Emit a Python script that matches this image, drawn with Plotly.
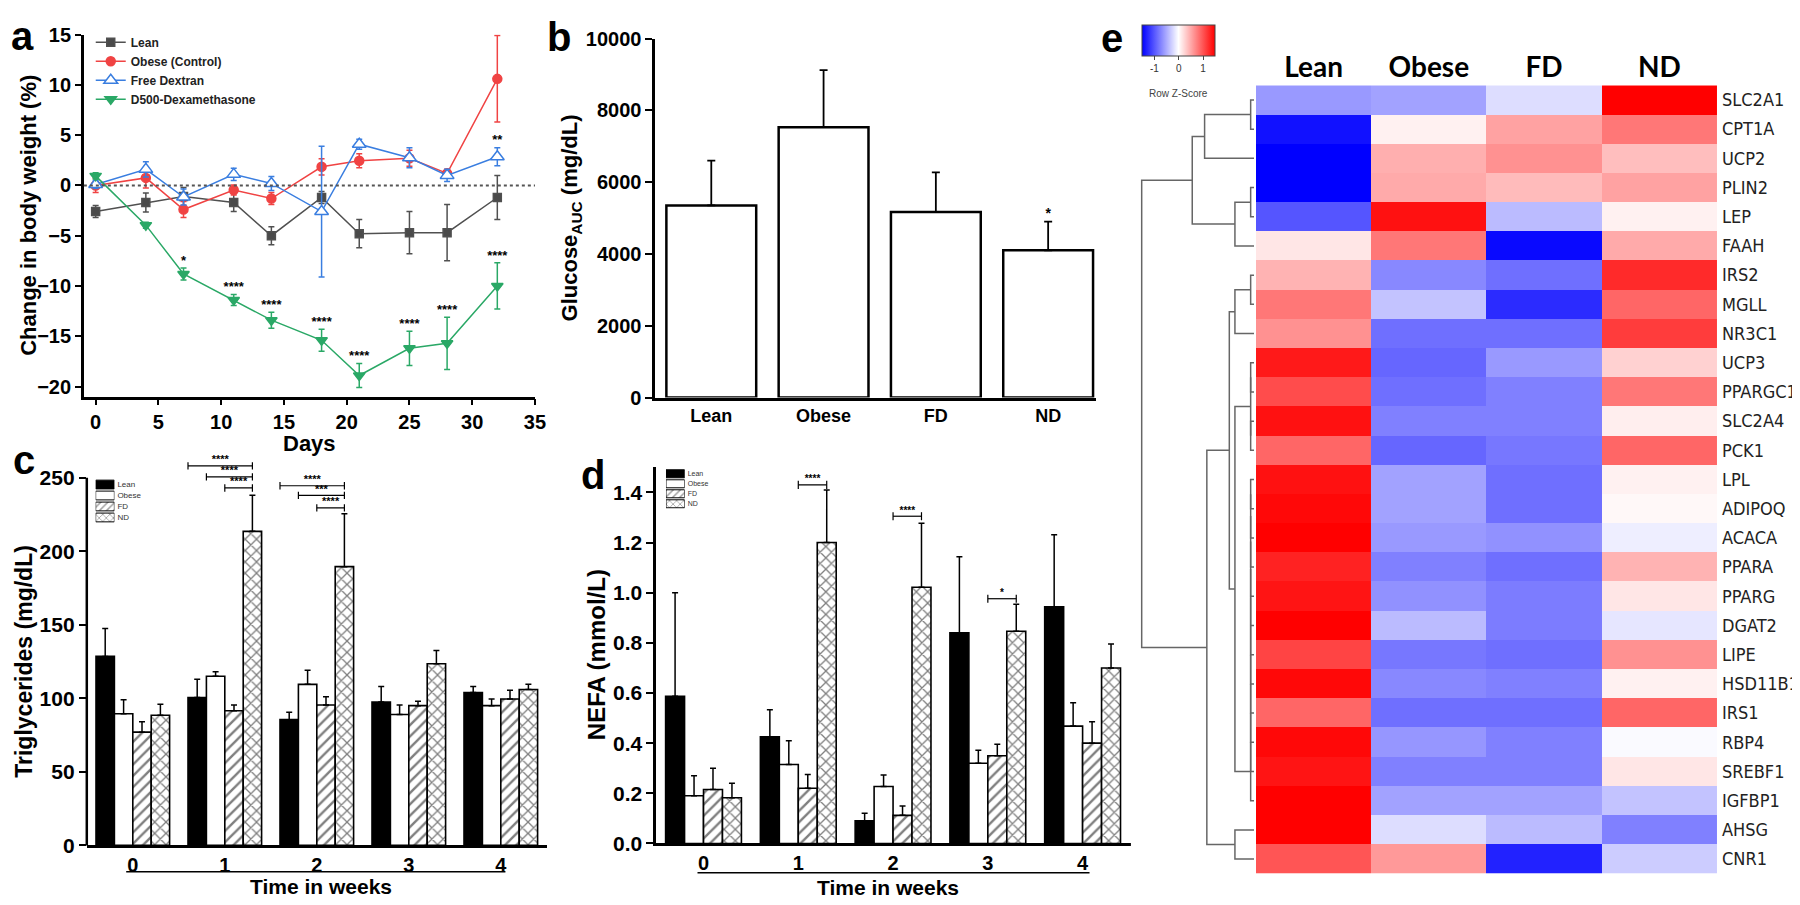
import plotly.graph_objects as go

W, H = 1800, 905
def fx(p): return p / W
def fy(p): return 1 - p / H

FONT = "Liberation Sans, Arial, Helvetica, sans-serif"
NARROW = "Liberation Sans Narrow, Arial Narrow, DejaVu Sans Condensed, Liberation Sans, sans-serif"
HEAD = "Lato, Carlito, Open Sans, sans-serif"

# ---------------- panel a : body weight ----------------
days = [0, 4, 7, 11, 14, 18, 21, 25, 28, 32]
bw_lean = [-2.6, -1.7, -1.1, -1.7, -5.0, -1.2, -4.8, -4.7, -4.7, -1.2]
bw_lean_err = [0.6, 0.95, 0.9, 0.9, 0.9, 0.6, 1.4, 2.1, 2.8, 2.2]
bw_obese = [0.0, 0.75, -2.4, -0.45, -1.3, 1.85, 2.45, 2.7, 1.2, 10.6]
bw_obese_err = [0.7, 1.0, 0.8, 0.5, 0.6, 0.8, 0.7, 0.8, 0.4, 4.3]
bw_fd = [0.1, 1.6, -1.15, 1.1, 0.2, -2.6, 4.1, 2.75, 1.0, 2.85]
bw_fd_err = [0.4, 0.75, 0.8, 0.6, 0.7, 6.5, 0.5, 1.0, 0.6, 0.9]
bw_nd = [0.95, -3.95, -8.8, -11.4, -13.4, -15.4, -18.9, -16.2, -15.7, -10.0]
bw_nd_err = [0.3, 0.3, 0.6, 0.55, 0.8, 1.1, 1.2, 1.7, 2.6, 2.3]
bw_nd_sig = ["", "", "*", "****", "****", "****", "****", "****", "****", "****"]
bw_fd_sig = ["", "", "", "", "", "", "", "", "", "**"]
a_names = ["Lean", "Obese (Control)", "Free Dextran", "D500-Dexamethasone"]

# ---------------- panel b : glucose AUC ----------------
groups = ["Lean", "Obese", "FD", "ND"]
glucose_auc = [5350, 7530, 5170, 4100]
glucose_auc_err = [1250, 1590, 1100, 800]
glucose_sig = ["", "", "", "*"]

# ---------------- panel c : triglycerides ----------------
weeks = [0, 1, 2, 3, 4]
tg_lean = [128.5, 100.5, 85.5, 97.5, 104]
tg_lean_err = [19, 12.5, 5, 10.5, 4]
tg_obese = [89.5, 115, 109.5, 89, 95]
tg_obese_err = [9.5, 3, 9.5, 6.5, 4.5]
tg_fd = [77, 91.5, 95.5, 95, 99.5]
tg_fd_err = [7, 4, 5.5, 3, 6]
tg_nd = [88.5, 213.5, 189.5, 123.5, 106]
tg_nd_err = [7.5, 24.5, 36, 9, 3.5]
# (week, compared group, bracket level, label)  -> all versus ND
tg_sig_week = [1, 1, 1, 2, 2, 2]
tg_sig_group = ["Lean", "Obese", "FD", "Lean", "Obese", "FD"]
tg_sig_level = [258, 250.5, 243, 244.5, 238, 229.5]
tg_sig_label = ["****", "****", "****", "****", "***", "****"]

# ---------------- panel d : NEFA ----------------
nefa_lean = [0.587, 0.425, 0.09, 0.84, 0.944]
nefa_lean_err = [0.413, 0.108, 0.03, 0.303, 0.287]
nefa_obese = [0.19, 0.315, 0.227, 0.32, 0.468]
nefa_obese_err = [0.08, 0.095, 0.046, 0.052, 0.093]
nefa_fd = [0.215, 0.22, 0.112, 0.35, 0.40]
nefa_fd_err = [0.085, 0.055, 0.037, 0.046, 0.085]
nefa_nd = [0.182, 1.2, 1.022, 0.846, 0.70]
nefa_nd_err = [0.058, 0.21, 0.255, 0.108, 0.095]
nefa_sig_week = [1, 2, 3]
nefa_sig_group = ["FD", "FD", "FD"]
nefa_sig_level = [1.43, 1.305, 0.976]
nefa_sig_label = ["****", "****", "*"]

# ---------------- panel e : heatmap ----------------
genes = ["SLC2A1", "CPT1A", "UCP2", "PLIN2", "LEP", "FAAH", "IRS2", "MGLL", "NR3C1",
         "UCP3", "PPARGC1A", "SLC2A4", "PCK1", "LPL", "ADIPOQ", "ACACA", "PPARA",
         "PPARG", "DGAT2", "LIPE", "HSD11B1", "IRS1", "RBP4", "SREBF1", "IGFBP1",
         "AHSG", "CNR1"]
z_lean = [-0.6, -1.4, -1.5, -1.5, -1.0, 0.15, 0.45, 0.8, 0.65, 1.35, 1.05, 1.4, 0.9,
          1.4, 1.45, 1.5, 1.3, 1.38, 1.5, 1.1, 1.45, 0.9, 1.45, 1.38, 1.5, 1.5, 1.0]
z_obese = [-0.55, 0.08, 0.47, 0.5, 1.4, 0.8, -0.7, -0.35, -0.85, -0.9, -0.85, -0.75, -0.9,
           -0.55, -0.55, -0.6, -0.75, -0.65, -0.4, -0.8, -0.7, -0.85, -0.62, -0.75, -0.55, -0.2, 0.6]
z_fd = [-0.2, 0.55, 0.65, 0.4, -0.4, -1.45, -0.85, -1.25, -0.85, -0.6, -0.75, -0.75, -0.8,
        -0.85, -0.85, -0.65, -0.85, -0.77, -0.77, -0.85, -0.75, -0.85, -0.75, -0.75, -0.55, -0.4, -1.3]
z_nd = [1.5, 0.8, 0.38, 0.55, 0.08, 0.5, 1.25, 0.9, 1.15, 0.27, 0.8, 0.1, 0.9,
        0.08, 0.04, -0.1, 0.45, 0.15, -0.15, 0.65, 0.08, 0.9, -0.03, 0.15, -0.35, -0.75, -0.3]
# row dendrogram: (new node, child 1, child 2, merge height)
stair_leaves = ["LPL", "ADIPOQ", "ACACA", "PPARA", "PPARG", "DGAT2", "LIPE", "HSD11B1",
                "IRS1", "RBP4", "SREBF1", "IGFBP1"]
dendro_merges = [
    ("T1", "SLC2A1", "CPT1A", 0.03), ("T2", "T1", "UCP2", 0.44),
    ("T3", "PLIN2", "LEP", 0.03), ("T4", "T3", "FAAH", 0.17), ("T5", "T2", "T4", 0.55),
    ("B1", "IRS2", "MGLL", 0.03), ("B2", "B1", "NR3C1", 0.17),
    ("G1a", "UCP3", "PPARGC1A", 0.03), ("G1b", "SLC2A4", "PCK1", 0.03), ("G1", "G1a", "G1b", 0.03),
]
prev = stair_leaves[0]
for i, leaf in enumerate(stair_leaves[1:]):
    dendro_merges.append(("S%d" % i, prev, leaf, 0.03))
    prev = "S%d" % i
dendro_merges += [
    ("B3", "G1", prev, 0.17), ("B4", "B2", "B3", 0.22),
    ("B5", "AHSG", "CNR1", 0.17), ("B6", "B4", "B5", 0.42),
    ("ROOT", "T5", "B6", 1.0),
]

fig = go.Figure()

def add_text_marks(xs, ys, labels, xa, ya, size):
    keep = [i for i, t in enumerate(labels) if t]
    fig.add_trace(go.Scatter(
        x=[xs[i] for i in keep], y=[ys[i] for i in keep], text=[labels[i] for i in keep],
        mode="text", textposition="top center",
        textfont=dict(family=FONT, size=size, color="black", weight="bold"),
        xaxis=xa, yaxis=ya, showlegend=False, cliponaxis=False, hoverinfo="skip"))

# ---------- panel a traces ----------
a_style = [
    dict(color="#505050", symbol="square", size=8, fill="#4a4a4a"),
    dict(color="#f04343", symbol="circle", size=9, fill="#f04343"),
    dict(color="#3a7ee0", symbol="triangle-up", size=12, fill="white"),
    dict(color="#2aa866", symbol="triangle-down", size=10, fill="#2aa866"),
]
a_vals = [(bw_lean, bw_lean_err), (bw_obese, bw_obese_err), (bw_fd, bw_fd_err), (bw_nd, bw_nd_err)]
for name, (v, e), st in zip(a_names, a_vals, a_style):
    fig.add_trace(go.Scatter(
        x=days, y=v, mode="lines+markers", name=name, xaxis="x", yaxis="y",
        line=dict(color=st["color"], width=1.5),
        marker=dict(symbol=st["symbol"], size=st["size"], color=st["fill"],
                    line=dict(color=st["color"], width=1.5)),
        error_y=dict(type="data", array=e, color=st["color"], thickness=1.5, width=3),
        legend="legend", showlegend=True))
for v, e, s in [(bw_nd, bw_nd_err, bw_nd_sig), (bw_fd, bw_fd_err, bw_fd_sig)]:
    add_text_marks(days, [a + b for a, b in zip(v, e)], s, "x", "y", 13)

# ---------- panel b ----------
fig.add_trace(go.Bar(
    x=groups, y=glucose_auc, xaxis="x2", yaxis="y2", showlegend=False,
    marker=dict(color="white", line=dict(color="black", width=2.5)),
    error_y=dict(type="data", symmetric=False, array=glucose_auc_err,
                 arrayminus=[0] * len(groups), color="black", thickness=1.8, width=4)))
add_text_marks(groups, [a + b for a, b in zip(glucose_auc, glucose_auc_err)], glucose_sig, "x2", "y2", 14)

# ---------- group bar styles ----------
bar_color = {"Lean": "black", "Obese": "white", "FD": "white", "ND": "white"}
bar_pattern = {"Lean": "", "Obese": "", "FD": "/", "ND": "x"}
offset = {"Lean": -0.3, "Obese": -0.1, "FD": 0.1, "ND": 0.3}
half_w = 0.1

def add_grouped(vals, errs, xa, ya):
    for g, v, e in zip(groups, vals, errs):
        fig.add_trace(go.Bar(
            x=weeks, y=v, name=g, xaxis=xa, yaxis=ya, showlegend=False,
            marker=dict(color=bar_color[g], line=dict(color="black", width=1.6),
                        pattern=dict(shape=bar_pattern[g], fgcolor="black", bgcolor="white",
                                     size=8, solidity=0.3)),
            error_y=dict(type="data", symmetric=False, array=e, arrayminus=[0] * len(e),
                         color="black", thickness=1.5, width=3)))

def add_brackets(wk, grp, lev, lab, xa, ya, tick, fsize):
    bx, by, tx, ty = [], [], [], []
    for w, g, l in zip(wk, grp, lev):
        xl = w + offset[g] - half_w
        xr = w + offset["ND"]
        bx += [xl, xl, None, xl, xr, None, xr, xr, None]
        by += [l - tick, l + tick, None, l, l, None, l - tick, l + tick, None]
        tx.append((xl + xr) / 2)
        ty.append(l)
    fig.add_trace(go.Scatter(x=bx, y=by, mode="lines", line=dict(color="black", width=1.2),
                             xaxis=xa, yaxis=ya, showlegend=False))
    add_text_marks(tx, ty, lab, xa, ya, fsize)

def add_patch_legend(xa, ya):
    fig.add_trace(go.Bar(
        y=groups, x=[1] * len(groups), orientation="h", xaxis=xa, yaxis=ya, showlegend=False,
        marker=dict(color=[bar_color[g] for g in groups], line=dict(color="black", width=1),
                    pattern=dict(shape=[bar_pattern[g] for g in groups], fgcolor="black",
                                 bgcolor="white", size=5, solidity=0.3))))

add_grouped([tg_lean, tg_obese, tg_fd, tg_nd], [tg_lean_err, tg_obese_err, tg_fd_err, tg_nd_err], "x3", "y3")
add_brackets(tg_sig_week, tg_sig_group, tg_sig_level, tg_sig_label, "x3", "y3", 2.5, 11)
add_patch_legend("x5", "y5")

add_grouped([nefa_lean, nefa_obese, nefa_fd, nefa_nd],
            [nefa_lean_err, nefa_obese_err, nefa_fd_err, nefa_nd_err], "x4", "y4")
add_brackets(nefa_sig_week, nefa_sig_group, nefa_sig_level, nefa_sig_label, "x4", "y4", 0.016, 10)
add_patch_legend("x6", "y6")

# ---------- panel e ----------
z = [[a, b, c, d] for a, b, c, d in zip(z_lean, z_obese, z_fd, z_nd)]
fig.add_trace(go.Heatmap(
    z=z, x=[0, 1, 2, 3], y=list(range(len(genes))), xaxis="x7", yaxis="y7",
    colorscale=[[0, "rgb(0,0,255)"], [0.5, "rgb(255,255,255)"], [1, "rgb(255,0,0)"]],
    zmin=-1.5, zmax=1.5, showscale=True, hoverinfo="skip",
    colorbar=dict(orientation="h", x=fx(1188.5), xanchor="center", y=fy(6), yanchor="top",
                  len=73, lenmode="pixels", thickness=31, thicknessmode="pixels",
                  xpad=0, ypad=0, outlinewidth=1, outlinecolor="#444",
                  tickvals=[-1, 0, 1], ticktext=["-1", "0", "1"],
                  ticks="outside", ticklen=4, tickcolor="#444",
                  tickfont=dict(family=FONT, size=10, color="#333"))))

pos = {g: i for i, g in enumerate(genes)}
hgt = {g: 0.0 for g in genes}
dx, dy = [], []
for name, a, b, h in dendro_merges:
    dx += [hgt[a], h, h, hgt[b], None]
    dy += [pos[a], pos[a], pos[b], pos[b], None]
    pos[name] = (pos[a] + pos[b]) / 2
    hgt[name] = h
fig.add_trace(go.Scatter(x=dx, y=dy, mode="lines", line=dict(color="#666", width=1.5),
                         xaxis="x8", yaxis="y7", showlegend=False, hoverinfo="skip"))

# ---------- layout ----------
tickb = lambda s: dict(family=FONT, size=s, color="black", weight="bold")
common = dict(showgrid=False, zeroline=False, linecolor="black", linewidth=2.5,
              tickcolor="black", tickwidth=2)

fig.update_layout(
    width=W, height=H, margin=dict(l=0, r=0, t=0, b=0),
    paper_bgcolor="white", plot_bgcolor="white",
    barmode="group", bargap=0.2, bargroupgap=0,
    legend=dict(x=fx(84), y=fy(9), xanchor="left", yanchor="top", bgcolor="rgba(0,0,0,0)",
                font=dict(family=FONT, size=12, color="#222", weight="bold"),
                itemwidth=30, tracegroupgap=0),
    xaxis=dict(domain=[fx(77), fx(535)], range=[-0.94, 35], anchor="y",
               tickvals=[0, 5, 10, 15, 20, 25, 30, 35], ticks="outside", ticklen=6,
               showline=True, tickfont=tickb(20), **common),
    yaxis=dict(domain=[fy(387), fy(16)], range=[-21, 15], anchor="x",
               tickvals=[-20, -15, -10, -5, 0, 5, 10, 15], ticks="outside", ticklen=6,
               showline=True, tickfont=tickb(20), **common),
    xaxis2=dict(domain=[fx(657), fx(1105)], range=[-0.5, 3.43], anchor="y2",
                ticks="", showline=True, tickfont=tickb(18), **common),
    yaxis2=dict(domain=[fy(388), fy(20)], range=[0, 10000], anchor="x2",
                tickvals=[0, 2000, 4000, 6000, 8000, 10000], tickformat="d",
                ticks="outside", ticklen=7, showline=True, tickfont=tickb(20), **common),
    xaxis3=dict(domain=[fx(80), fx(547)], range=[-0.5, 4.5], anchor="y3",
                tickvals=weeks, ticks="", showline=True, tickfont=tickb(20),
                ticklabelstandoff=0, **common),
    yaxis3=dict(domain=[fy(847), fy(452)], range=[0, 262], anchor="x3",
                tickvals=[0, 50, 100, 150, 200, 250], ticks="outside", ticklen=7,
                showline=False, tickfont=tickb(21), **common),
    xaxis4=dict(domain=[fx(658), fx(1141)], range=[-0.5, 4.52], anchor="y4",
                tickvals=weeks, ticks="", showline=True, tickfont=tickb(20),
                ticklabelstandoff=0, **common),
    yaxis4=dict(domain=[fy(845), fy(459.5)], range=[0, 1.5], anchor="x4",
                tickvals=[0, 0.2, 0.4, 0.6, 0.8, 1.0, 1.2, 1.4], tickformat=".1f",
                ticks="outside", ticklen=7, showline=True, tickfont=tickb(21), **common),
    xaxis5=dict(domain=[fx(89), fx(108)], range=[0, 1], anchor="y5", visible=False),
    yaxis5=dict(domain=[fy(516.5), fy(471.5)], anchor="x5", side="right",
                autorange="reversed", showgrid=False, zeroline=False, showline=False, ticks="",
                ticklabelstandoff=2, tickfont=dict(family=FONT, size=8, color="#333")),
    xaxis6=dict(domain=[fx(668), fx(687)], range=[0, 1], anchor="y6", visible=False),
    yaxis6=dict(domain=[fy(502), fy(461)], anchor="x6", side="right",
                autorange="reversed", showgrid=False, zeroline=False, showline=False, ticks="",
                ticklabelstandoff=2, tickfont=dict(family=FONT, size=7, color="#333")),
    xaxis7=dict(domain=[fx(1267), fx(1735)], range=[-0.5, 3.5], anchor="y7", side="top",
                tickvals=[0, 1, 2, 3], ticktext=groups, ticks="", showgrid=False,
                zeroline=False, showline=False, ticklabelstandoff=2,
                tickfont=dict(family=HEAD, size=28, color="black", weight="bold")),
    yaxis7=dict(domain=[fy(876), fy(68)], range=[len(genes) - 0.5, -0.5], anchor="x7",
                side="right", tickvals=list(range(len(genes))), ticktext=genes, ticks="",
                showgrid=False, zeroline=False, showline=False, ticklabelstandoff=4,
                tickfont=dict(family=NARROW, size=18, color="#222")),
    xaxis8=dict(domain=[fx(1140), fx(1267)], range=[1.096, -0.0175], anchor="y7", visible=False),
)

# dotted zero line (a) and shortened y spine (c)
fig.add_shape(type="line", xref="x domain", x0=0, x1=1, yref="y", y0=0, y1=0,
              line=dict(color="#555", width=2, dash="dot"))
c_dom = fig.layout.yaxis3.domain
c_top = c_dom[0] + (250 / 262) * (c_dom[1] - c_dom[0])
fig.add_shape(type="line", xref="paper", yref="paper", x0=fx(80), x1=fx(80), y0=c_dom[0], y1=c_top,
              line=dict(color="black", width=2.5))
# underlines under week labels
fig.add_shape(type="line", xref="paper", yref="paper", x0=fx(120), x1=fx(505), y0=fy(874), y1=fy(874),
              line=dict(color="black", width=1.5))
fig.add_shape(type="line", xref="paper", yref="paper", x0=fx(700), x1=fx(1098), y0=fy(875), y1=fy(875),
              line=dict(color="black", width=1.5))

def ann(text, x, y, size, angle=0, family=FONT, weight="bold", color="black"):
    fig.add_annotation(text=text, x=fx(x), y=fy(y), xref="paper", yref="paper",
                       showarrow=False, xanchor="center", yanchor="middle", textangle=angle,
                       font=dict(family=family, size=size, color=color, weight=weight))

for letter, x, y in [("a", 15, 17), ("b", 559, 18), ("c", 16, 452), ("d", 594, 467), ("e", 1121, 19)]:
    ann(letter, x, y, 40)
ann("Change in body weight (%)", 20, 201, 22, angle=-90)
ann("Days", 306, 435, 22)
ann("Glucose<sub>AUC</sub> (mg/dL)", 572, 204, 22, angle=-90)
ann("Triglycerides (mg/dL)", 16, 658, 23, angle=-90)
ann("Time in weeks", 318, 889, 21)
ann("NEFA (mmol/L)", 597, 652, 24, angle=-90)
ann("Time in weeks", 893, 890, 21)
ann("Row Z-Score", 1188, 76, 10, weight="normal", color="#444")

fig.write_html("out.html")
